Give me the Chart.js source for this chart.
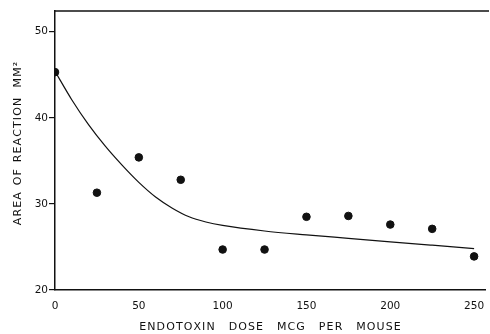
<!DOCTYPE html>
<html>
<head>
<meta charset="utf-8">
<script src="https://cdn.jsdelivr.net/npm/chart.js"></script>
<style>
  html, body { margin: 0; padding: 0; background: #fff; overflow: hidden; }
  #wrap { width: 490px; height: 334px; }
</style>
</head>
<body>
<div id="wrap"><canvas id="doseChart"></canvas></div>

<script>

// observed points
const doses = [0, 25, 50, 75, 100, 125, 150, 175, 200, 225, 250];
const areas = [45.3, 31.3, 35.4, 32.8, 24.7, 24.7, 28.5, 28.6, 27.6, 27.1, 23.9];

// fitted curve
const curveDoses = [0, 10, 20, 30, 40, 50, 60, 70, 80, 90, 100, 125, 150, 175, 200, 225, 250];
const curveAreas = [45.4, 42.1, 39.2, 36.7, 34.5, 32.5, 30.8, 29.5, 28.5, 27.9, 27.5, 26.85, 26.4, 26.0, 25.6, 25.2, 24.8];

const yTicks = [20, 30, 40, 50];
const xTicks = [0, 50, 100, 150, 200, 250];

const ink = '#111';
const font = { family: 'DejaVu Sans', size: 10.5 };

// spread letters a little, like the typed lettering of the figure
const spaced = (words, gaps) => words
    .map(w => w.split('').join('\u200A'))
    .reduce((acc, w, i) => i === 0 ? w : acc + gaps[i - 1] + w, '');

const xTitle = spaced(['ENDOTOXIN', 'DOSE', 'MCG', 'PER', 'MOUSE'], ['    ', '    ', '    ', '    ']);
const yTitle = '    ' + spaced(['AREA', 'OF', 'REACTION', 'MM²'], ['  ', '  ', '   ']);

// top frame line across the plot
const topFrame = {
    id: 'topFrame',
    afterDraw(chart) {
        const { ctx, chartArea } = chart;
        ctx.save();
        ctx.strokeStyle = ink;
        ctx.lineWidth = 1.5;
        ctx.beginPath();
        ctx.moveTo(chartArea.left, chartArea.top);
        ctx.lineTo(chartArea.right + 4, chartArea.top);
        ctx.stroke();
        ctx.restore();
    }
};

new Chart(document.getElementById('doseChart'), {

    type: 'scatter',

    data: {
        datasets: [
            {
                label: 'Curve',
                data: curveDoses.map((d, i) => ({ x: d, y: curveAreas[i] })),
                showLine: true,
                borderColor: ink,
                borderWidth: 1.2,
                pointRadius: 0,
                cubicInterpolationMode: 'monotone'
            },
            {
                label: 'Observed',
                data: doses.map((d, i) => ({ x: d, y: areas[i] })),
                backgroundColor: ink,
                borderColor: ink,
                pointRadius: 3.8,
                showLine: false
            }
        ]
    },

    options: {
        responsive: true,
        maintainAspectRatio: false,
        animation: false,
        layout: { padding: { top: 11, right: 0, left: 0, bottom: 0 } },
        plugins: {
            legend: { display: false },
            tooltip: { enabled: false }
        },
        scales: {
            x: {
                type: 'linear',
                min: 0,
                max: 256.5,
                afterBuildTicks: s => { s.ticks = xTicks.map(v => ({ value: v })); },
                afterFit: s => { s.height = 44; },
                grid: { display: false },
                border: { display: true, color: ink, width: 1.5 },
                ticks: { color: ink, font: font, padding: 2 },
                title: {
                    display: true,
                    text: xTitle,
                    color: ink,
                    font: { family: 'DejaVu Sans', size: 11 },
                    padding: { top: 4, bottom: 0 }
                }
            },
            y: {
                min: 20,
                max: 52.4,
                afterBuildTicks: s => { s.ticks = yTicks.map(v => ({ value: v })); },
                afterFit: s => { s.width = 55; },
                grid: {
                    drawOnChartArea: false,
                    drawTicks: true,
                    tickLength: 6,
                    color: ink,
                    lineWidth: 1.2
                },
                border: { display: true, color: ink, width: 1.5 },
                ticks: { color: ink, font: font, padding: 1 },
                title: {
                    display: true,
                    text: yTitle,
                    color: ink,
                    font: { family: 'DejaVu Sans', size: 11 },
                    padding: { top: 12, bottom: 4 }
                }
            }
        }
    },

    plugins: [topFrame]

});

</script>
</body>
</html>
